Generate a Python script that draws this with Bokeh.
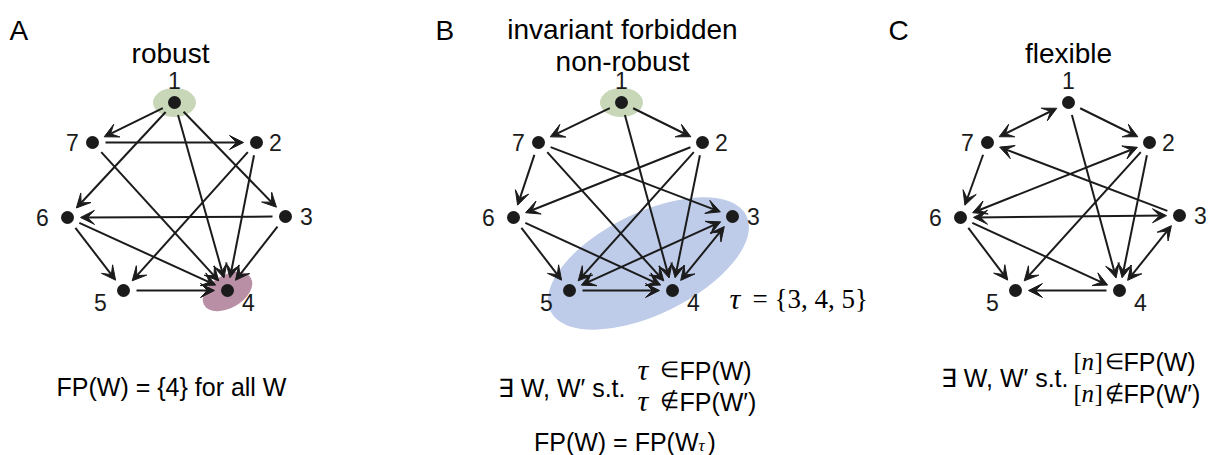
import numpy as np
from bokeh.plotting import figure
from bokeh.models import ColumnDataSource, Arrow, VeeHead, Range1d
from bokeh.core.properties import value
from bokeh.embed import file_html
from bokeh.resources import INLINE

# ---------------- data ----------------
node_names = ["1", "2", "3", "4", "5", "6", "7"]

A_x = [174, 256, 285, 227, 123, 67, 92]
A_y = [102, 142, 216, 290, 290, 217, 142]
B_x = [621, 702, 732, 672, 569, 513, 538]
B_y = [102, 142, 216, 290, 290, 217, 142]
C_x = [1068, 1149, 1179, 1119, 1015, 960, 987]
C_y = [102, 142, 215, 290, 290, 217, 142]

A_edges = [("1", "7"), ("1", "6"), ("1", "4"), ("1", "3"), ("7", "2"), ("7", "4"),
           ("2", "5"), ("2", "4"), ("3", "6"), ("3", "4"), ("6", "5"), ("6", "4"), ("5", "4")]
A_bidir = []
B_edges = [("1", "7"), ("1", "2"), ("1", "4"), ("7", "6"), ("7", "3"), ("7", "4"),
           ("2", "6"), ("2", "5"), ("2", "4"), ("6", "5"), ("6", "4"), ("5", "4")]
B_bidir = [("5", "3"), ("4", "3")]
C_edges = [("1", "2"), ("1", "4"), ("7", "6"), ("3", "7"), ("2", "5"), ("2", "4"),
           ("6", "5"), ("6", "4"), ("4", "5")]
C_bidir = [("1", "7"), ("2", "6"), ("6", "3"), ("4", "3")]

# label offsets (dx, dy) per node
label_dx = [0, 19, 21, 21, -23, -25, -20]
label_dy = [-22, 0, 0, 12, 12, 0, 0]

panel_letters = ["A", "B", "C"]
panel_titles = ["robust", "invariant forbidden", "flexible"]

# highlighted sets: (x, y, w, h, angle_deg, colour)
hl_x = [174, 621, 227, 648]
hl_y = [102, 102, 291, 263]
hl_w = [43, 43, 54, 218]
hl_h = [29, 29, 33, 102]
hl_ang = [0, 0, 30, 26]
hl_col = ["#c8d7b8", "#c8d7b8", "#b98fa6", "#bfcce9"]

SANS = "Liberation Sans"
SERIF = "Liberation Serif"
INK = "#1b1b1b"

# ---------------- figure ----------------
p = figure(width=1220, height=455, x_range=Range1d(0, 1220), y_range=Range1d(455, 0),
           output_backend="svg", toolbar_location=None,
           x_axis_location=None, y_axis_location=None, min_border=0)
p.grid.visible = False
p.outline_line_color = None

# highlight ellipses
p.ellipse(x=hl_x, y=hl_y, width=hl_w, height=hl_h,
          angle=[np.deg2rad(a) for a in hl_ang], angle_units="rad",
          fill_color=hl_col, line_color=None)


def edge_source(xs, ys, edges, gap0=13, gap1=13):
    idx = {n: i for i, n in enumerate(node_names)}
    x0, y0, x1, y1 = [], [], [], []
    for a, b in edges:
        ax, ay = xs[idx[a]], ys[idx[a]]
        bx, by = xs[idx[b]], ys[idx[b]]
        d = np.hypot(bx - ax, by - ay)
        ux, uy = (bx - ax) / d, (by - ay) / d
        x0.append(ax + ux * gap0); y0.append(ay + uy * gap0)
        x1.append(bx - ux * gap1); y1.append(by - uy * gap1)
    return ColumnDataSource(dict(x0=x0, y0=y0, x1=x1, y1=y1))


def head():
    return VeeHead(size=14, fill_color=INK, line_color=INK, line_width=1)


panels = [(A_x, A_y, A_edges, A_bidir), (B_x, B_y, B_edges, B_bidir), (C_x, C_y, C_edges, C_bidir)]
for xs, ys, edges, bidir in panels:
    src = edge_source(xs, ys, edges)
    p.add_layout(Arrow(end=head(), x_start="x0", y_start="y0", x_end="x1", y_end="y1",
                       source=src, line_width=2, line_color=INK))
    if bidir:
        src2 = edge_source(xs, ys, bidir)
        p.add_layout(Arrow(start=head(), end=head(),
                           x_start="x0", y_start="y0", x_end="x1", y_end="y1",
                           source=src2, line_width=2, line_color=INK))
    p.scatter(x=xs, y=ys, size=13, fill_color=INK, line_color=None)
    p.text(x=[x + dx for x, dx in zip(xs, label_dx)], y=[y + dy for y, dy in zip(ys, label_dy)],
           text=node_names, text_align="center", text_baseline="middle",
           text_font=value(SANS), text_font_size="23px", text_color=INK)

# panel letters and titles
p.text(x=[9, 435, 888], y=[30, 30, 30], text=panel_letters, text_align="left",
       text_baseline="alphabetic", text_font=value(SANS), text_font_size="28px", text_color="black")
p.text(x=[170, 622, 1068], y=[53, 29, 53], text=panel_titles, text_align="center",
       text_baseline="alphabetic", text_font=value(SANS), text_font_size="28px", text_color="black")
p.text(x=[622], y=[61], text=["non-robust"], text_align="center",
       text_baseline="alphabetic", text_font=value(SANS), text_font_size="28px", text_color="black")

# tau set label
p.text(x=[729], y=[298], text=["τ"], text_align="left", text_baseline="alphabetic",
       text_font=value(SERIF), text_font_style="italic", text_font_size="30px", text_color="black")
p.text(x=[752], y=[298], text=["= {3, 4, 5}"], text_align="left", text_baseline="alphabetic",
       text_font=value(SERIF), text_font_size="27px", text_color="black")

# bottom statements
FS = "25px"
p.text(x=[171], y=[386], text=["FP(W) = {4} for all W"], text_align="center",
       text_baseline="alphabetic", text_font=value(SANS), text_font_size=FS, text_color="black")

p.text(x=[625, 1068], y=[387, 377], text=["∃ W, W′ s.t.", "∃ W, W′ s.t."], text_align="right",
       text_baseline="alphabetic", text_font=value(SANS), text_font_size=FS, text_color="black")
# B: tau lines
p.text(x=[637, 637], y=[369, 400], text=["τ", "τ"], text_align="left", text_baseline="alphabetic",
       text_font=value(SERIF), text_font_style="italic", text_font_size="30px", text_color="black")
p.text(x=[659, 659, 1104, 1104], y=[369, 400, 361, 393], text=["∈", "∉", "∈", "∉"],
       text_align="left", text_baseline="alphabetic",
       text_font=value(SERIF), text_font_size="22px", text_color="black")
p.text(x=[679, 679, 1123, 1123], y=[370, 401, 361, 393],
       text=["FP(W)", "FP(W′)", "FP(W)", "FP(W′)"], text_align="left", text_baseline="alphabetic",
       text_font=value(SANS), text_font_size=FS, text_color="black")
# C: [n]
p.text(x=[1073, 1073], y=[361, 393], text=["[", "["], text_align="left", text_baseline="alphabetic",
       text_font=value(SERIF), text_font_size=FS, text_color="black")
p.text(x=[1081, 1081], y=[361, 393], text=["n", "n"], text_align="left", text_baseline="alphabetic",
       text_font=value(SERIF), text_font_style="italic", text_font_size=FS, text_color="black")
p.text(x=[1094, 1094], y=[361, 393], text=["]", "]"], text_align="left", text_baseline="alphabetic",
       text_font=value(SERIF), text_font_size=FS, text_color="black")

# FP(W) = FP(W_tau)
p.text(x=[698], y=[441], text=["FP(W) = FP(W"], text_align="right", text_baseline="alphabetic",
       text_font=value(SANS), text_font_size=FS, text_color="black")
p.text(x=[698], y=[445], text=["τ"], text_align="left", text_baseline="alphabetic",
       text_font=value(SERIF), text_font_style="italic", text_font_size="17px", text_color="black")
p.text(x=[707], y=[441], text=[")"], text_align="left", text_baseline="alphabetic",
       text_font=value(SANS), text_font_size=FS, text_color="black")

open("out.html", "w").write(file_html(p, INLINE))
